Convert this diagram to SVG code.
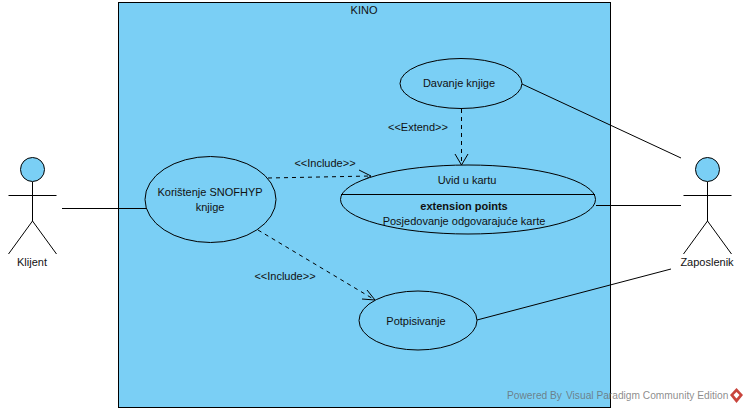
<svg xmlns="http://www.w3.org/2000/svg" width="748" height="412" viewBox="0 0 748 412">
<style>
text{font-family:"Liberation Sans",Arial,sans-serif;font-size:11px;fill:#111;text-anchor:middle}
.s{fill:#7acff5;stroke:#000;stroke-width:1}
.l{fill:none;stroke:#000;stroke-width:1}
.d{fill:none;stroke:#000;stroke-width:1;stroke-dasharray:4 4}
text.w{fill:#666;fill-opacity:.75;font-size:10.200px;text-anchor:start}
</style>
<rect width="748" height="412" fill="#fff"/>
<g id="system"><rect class="s" x="118.500" y="2.500" width="492" height="405"/><text x="364" y="14">KINO</text></g>
<g id="connectors">
<path class="l" d="M62 208.500H146"/>
<path class="l" d="M522 84L681 158"/>
<path class="l" d="M596 205.500H681"/>
<path class="l" d="M477 320L671 269"/>
<path class="d" d="M268 178L371 176"/>
<path class="l" d="M359 170L371 176L359 183"/>
<path class="d" d="M258 230L375 300"/>
<path class="l" d="M367 290L375 300L362 299"/>
<path class="d" d="M461.500 109V165"/>
<path class="l" d="M455 154L461.500 165L468 154"/>
</g>
<g id="label-include1"><text x="325" y="167">&lt;&lt;Include&gt;&gt;</text></g>
<g id="label-include2"><text x="285" y="280">&lt;&lt;Include&gt;&gt;</text></g>
<g id="label-extend"><text x="418" y="131">&lt;&lt;Extend&gt;&gt;</text></g>
<g id="klijent">
<circle class="s" cx="32.500" cy="169.500" r="12"/>
<path class="l" d="M32.500 182V221M8.500 195.500H56.500M32.500 221L8.500 254M32.500 221L56.500 254"/>
<text x="32" y="266">Klijent</text>
</g>
<g id="zaposlenik">
<circle class="s" cx="707.500" cy="169.500" r="12"/>
<path class="l" d="M707.500 182V221M683.500 195.500H731.500M707.500 221L683.500 254M707.500 221L731.500 254"/>
<text x="707" y="266">Zaposlenik</text>
</g>
<g id="koristenje">
<ellipse class="s" cx="210.500" cy="199.500" rx="65.500" ry="43"/>
<text x="210" y="196">Korištenje SNOFHYP</text>
<text x="210" y="211">knjige</text>
</g>
<g id="davanje">
<ellipse class="s" cx="461" cy="83.500" rx="61" ry="25"/>
<text x="459" y="87">Davanje knjige</text>
</g>
<g id="uvid">
<ellipse class="s" cx="468" cy="199.500" rx="127.500" ry="34.500"/>
<path class="l" d="M341 194.500H595"/>
<text x="467" y="184">Uvid u kartu</text>
<text x="464" y="210" font-weight="bold">extension points</text>
<text x="464" y="225">Posjedovanje odgovarajuće karte</text>
</g>
<g id="potpisivanje">
<ellipse class="s" cx="418" cy="320.500" rx="59" ry="29.500"/>
<text x="416" y="325">Potpisivanje</text>
</g>
<g id="watermark">
<text class="w" x="507" y="399">Powered By</text>
<text class="w" x="566" y="399">Visual Paradigm Community Edition</text>
<path d="M736.500 388L743 395L736.500 403L730 395Z" fill="#c8443c"/>
<path d="M736.500 392L739.500 395L736.500 398.500L733.500 395Z" fill="#fff"/>
</g>
</svg>
